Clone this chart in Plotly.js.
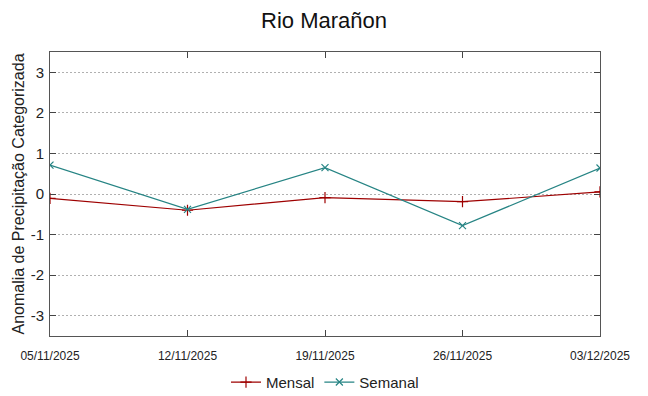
<!DOCTYPE html>
<html>
<head>
<meta charset="utf-8">
<script src="https://cdn.plot.ly/plotly-3.0.1.min.js"></script>
<style>html,body{margin:0;padding:0;background:#fff;}#chart{width:648px;height:396px;}</style>
</head>
<body>
<div id="chart"></div>
<script>
const dates = ["2025-11-05", "2025-11-12", "2025-11-19", "2025-11-26", "2025-12-03"];
const tickLabels = ["05/11/2025", "12/11/2025", "19/11/2025", "26/11/2025", "03/12/2025"];
const mensal = [-0.11, -0.40, -0.09, -0.19, 0.05];
const semanal = [0.71, -0.38, 0.65, -0.78, 0.64];
const yTicks = [-3, -2, -1, 0, 1, 2, 3];
const yTickLabels = ["-3", "-2", "-1", "0", "1", "2", "3"];

const sans = "'Liberation Sans', Arial, sans-serif";

const traces = [
  {
    x: dates, y: mensal, name: "Mensal", type: "scatter", mode: "lines+markers",
    line: {color: "#9e0000", width: 1.2},
    marker: {symbol: "cross-thin", size: 8, color: "#9e0000", line: {color: "#9e0000", width: 1.2}}
  },
  {
    x: dates, y: semanal, name: "Semanal", type: "scatter", mode: "lines+markers",
    line: {color: "#268484", width: 1.2},
    marker: {symbol: "x-thin", size: 7, color: "#268484", line: {color: "#268484", width: 1.2}}
  }
];

const layout = {
  width: 648, height: 396,
  margin: {l: 50, r: 48, t: 52, b: 60, autoexpand: false},
  paper_bgcolor: "#ffffff", plot_bgcolor: "#ffffff",
  title: {text: "Rio Marañon", font: {family: sans, size: 22, color: "#111"}, x: 0.5, xanchor: "center", y: 0.95, yanchor: "middle"},
  xaxis: {
    type: "date",
    range: [dates[0], dates[dates.length - 1]],
    tickvals: dates, ticktext: tickLabels,
    tickfont: {family: sans, size: 12, color: "#222"},
    ticks: "inside", ticklen: 6, tickcolor: "#444",
    ticklabelstandoff: 9,
    showgrid: false, zeroline: false,
    showline: true, linecolor: "#555", linewidth: 1, mirror: "ticks"
  },
  yaxis: {
    range: [-3.5, 3.5],
    tickvals: yTicks, ticktext: yTickLabels,
    tickfont: {family: sans, size: 15, color: "#222"},
    ticks: "inside", ticklen: 6, tickcolor: "#444",
    ticklabelstandoff: 2,
    showgrid: true, gridcolor: "#b0b0b0", griddash: "2px,2px", gridwidth: 1,
    zeroline: false,
    showline: true, linecolor: "#555", linewidth: 1, mirror: "ticks",
    title: {text: "Anomalia de Precipitação Categorizada", font: {family: sans, size: 16, color: "#222"}, standoff: 2}
  },
  showlegend: true,
  legend: {orientation: "h", x: 0.5, xanchor: "center", y: -0.163, yanchor: "middle", font: {family: sans, size: 15, color: "#222"}}
};

Plotly.newPlot("chart", traces, layout, {displayModeBar: false, staticPlot: true});
</script>
</body>
</html>
